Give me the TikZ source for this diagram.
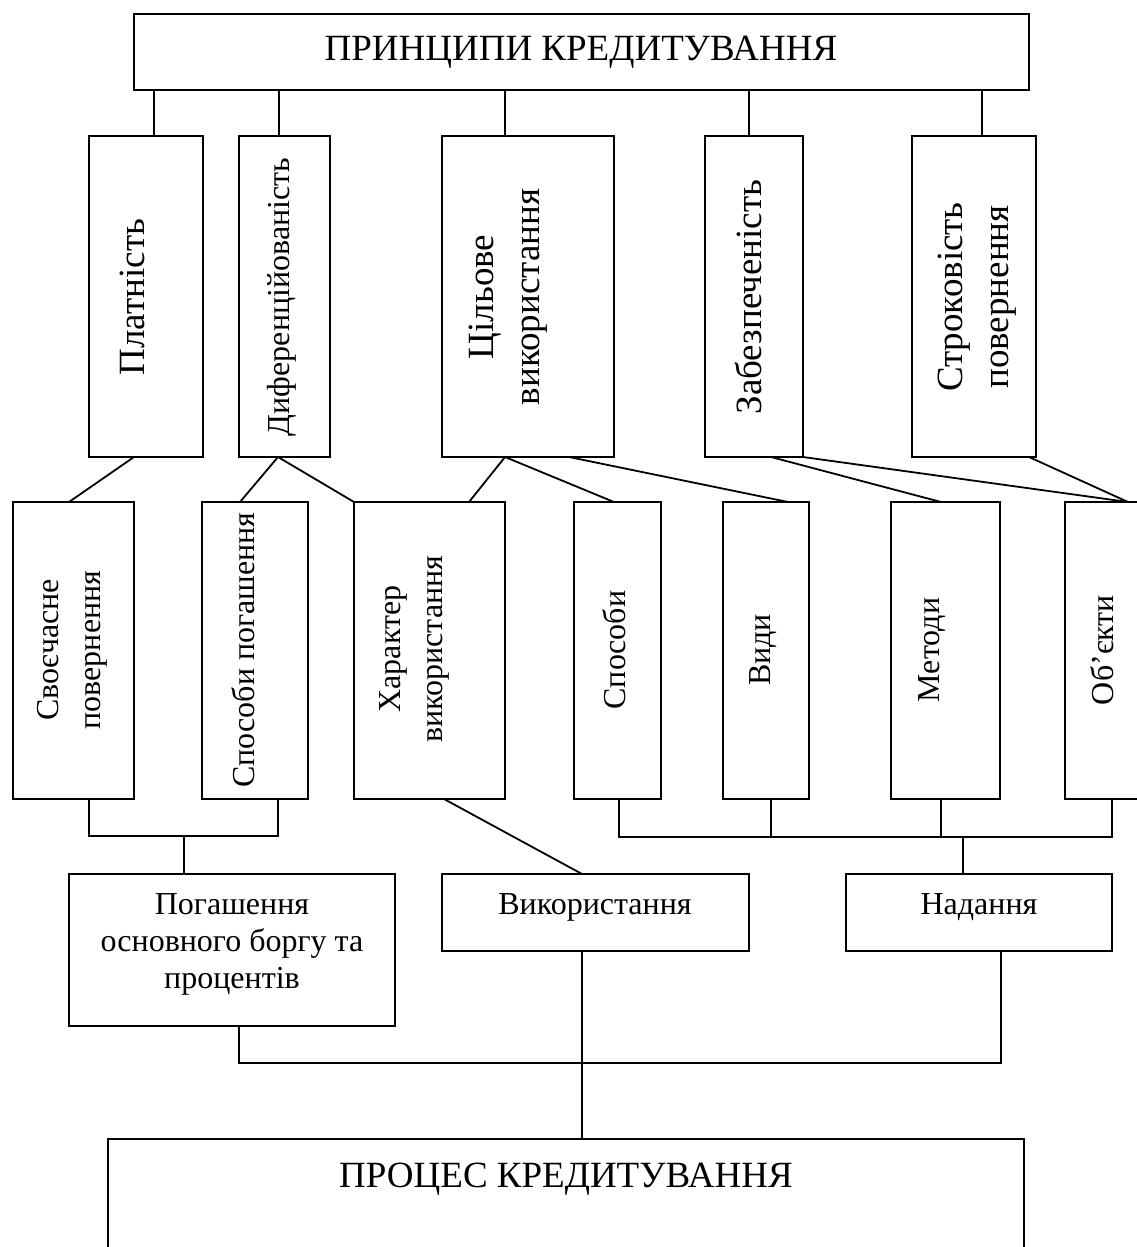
\documentclass[tikz,border=0pt]{standalone}
\usepackage{fontspec}
\setmainfont{Liberation Serif}
\begin{document}
\begin{tikzpicture}[x=1pt,y=-1pt,
  box/.style={draw, line width=1.8pt, rectangle, inner sep=0pt, outer sep=0pt},
  conn/.style={line width=1.8pt},
  big/.style={font=\fontsize{37}{42}\selectfont, inner sep=0pt, align=center},
  mid/.style={font=\fontsize{32}{37}\selectfont, inner sep=0pt, align=center},
  bigv/.style={font=\fontsize{37}{46}\selectfont, inner sep=0pt, align=center, rotate=90},
  midv/.style={font=\fontsize{32}{42}\selectfont, inner sep=0pt, align=center, rotate=90}]
\useasboundingbox (0,0) rectangle (1137,1247);
\clip (0,0) rectangle (1137,1247);

% top: principles
\node[box, minimum width=895pt, minimum height=76pt] (P) at (581.5,52) {};
\node[big] (tP) at (581,52) {ПРИНЦИПИ КРЕДИТУВАННЯ};

% second row: the principles themselves
\node[box, minimum width=114pt, minimum height=321pt] (A1) at (146,296.5) {};
\node[box, minimum width=91pt,  minimum height=321pt] (A2) at (284.5,296.5) {};
\node[box, minimum width=172pt, minimum height=321pt] (A3) at (528,296.5) {};
\node[box, minimum width=98pt,  minimum height=321pt] (A4) at (754,296.5) {};
\node[box, minimum width=124pt, minimum height=321pt] (A5) at (974,296.5) {};
\node[bigv] (tA1) at (132.6,297) {Платність};
\node[midv] (tA2) at (281.7,297) {Диференційованість};
\node[bigv] (tA3) at (508,297) {Цільове\\використання};
\node[bigv] (tA4) at (748.4,297) {Забезпеченість};
\node[bigv] (tA5) at (977.5,297) {Строковість\\повернення};

% third row: aspects
\node[box, minimum width=121pt, minimum height=297pt] (B1) at (73.5,650.5) {};
\node[box, minimum width=106pt, minimum height=297pt] (B2) at (255,650.5) {};
\node[box, minimum width=151pt, minimum height=297pt] (B3) at (429.5,650.5) {};
\node[box, minimum width=87pt,  minimum height=297pt] (B4) at (617.5,650.5) {};
\node[box, minimum width=86pt,  minimum height=297pt] (B5) at (766,650.5) {};
\node[box, minimum width=109pt, minimum height=297pt] (B6) at (945.5,650.5) {};
\node[box, minimum width=110pt, minimum height=297pt] (B7) at (1120,650.5) {};
\node[midv] (tB1) at (72.5,650) {Своєчасне\\повернення};
\node[midv] (tB2) at (243,650) {Способи погашення};
\node[midv] (tB3) at (414,649) {Характер\\використання};
\node[midv] (tB4) at (614.5,650) {Способи};
\node[midv] (tB5) at (763.4,650) {Види};
\node[midv] (tB6) at (931.9,650) {Методи};
\node[midv] (tB7) at (1102.3,650) {Об’єкти};

% fourth row: stages
\node[box, minimum width=326pt, minimum height=152pt] (C1) at (232,950) {};
\node[box, minimum width=307pt, minimum height=77pt] (C2) at (595.5,912.5) {};
\node[box, minimum width=266pt, minimum height=77pt] (C3) at (979,912.5) {};
\node[mid] (tC1) at (232,944) {Погашення\\основного боргу та\\процентів};
\node[mid] (tC2) at (595,907) {Використання};
\node[mid] (tC3) at (979,907) {Надання};

% bottom: the process
\node[box, minimum width=916pt, minimum height=200pt] (D) at (566,1239) {};
\node[big] (tD) at (566,1179) {ПРОЦЕС КРЕДИТУВАННЯ};

% principles -> row two
\draw[conn] (154,0 |- P.south) -- (154,0 |- A1.north);
\draw[conn] (279,0 |- P.south) -- (279,0 |- A2.north);
\draw[conn] (505,0 |- P.south) -- (505,0 |- A3.north);
\draw[conn] (749,0 |- P.south) -- (749,0 |- A4.north);
\draw[conn] (982,0 |- P.south) -- (982,0 |- A5.north);

% row two -> row three
\draw[conn] (134,0 |- A1.south) -- (69,0 |- B1.north);
\draw[conn] (278,0 |- A2.south) -- (240,0 |- B2.north);
\draw[conn] (278,0 |- A2.south) -- (B3.north west);
\draw[conn] (505,0 |- A3.south) -- (469,0 |- B3.north);
\draw[conn] (505,0 |- A3.south) -- (614,0 |- B4.north);
\draw[conn] (569,0 |- A3.south) -- (788,0 |- B5.north);
\draw[conn] (771,0 |- A4.south) -- (941,0 |- B6.north);
\draw[conn] (A4.south east) -- (1128,0 |- B7.north);
\draw[conn] (1029,0 |- A5.south) -- (1128,0 |- B7.north);

% row three -> row four
\coordinate (jL) at (184,836);
\coordinate (jR) at (963,837);
\draw[conn] (89,0 |- B1.south) |- (jL) -| (278,0 |- B2.south);
\draw[conn] (jL) -- (jL |- C1.north);
\draw[conn] (619,0 |- B4.south) |- (jR) -| (1112,0 |- B7.south);
\draw[conn] (771,0 |- B5.south) -- (771,837);
\draw[conn] (941,0 |- B6.south) -- (941,837);
\draw[conn] (jR) -- (jR |- C3.north);
\draw[conn] (444,0 |- B3.south) -- (582,0 |- C2.north);

% row four -> process
\coordinate (jB) at (582,1063);
\draw[conn] (239,0 |- C1.south) |- (jB) -| (1001,0 |- C3.south);
\draw[conn] (582,0 |- C2.south) -- (582,0 |- D.north);
\end{tikzpicture}
\end{document}
